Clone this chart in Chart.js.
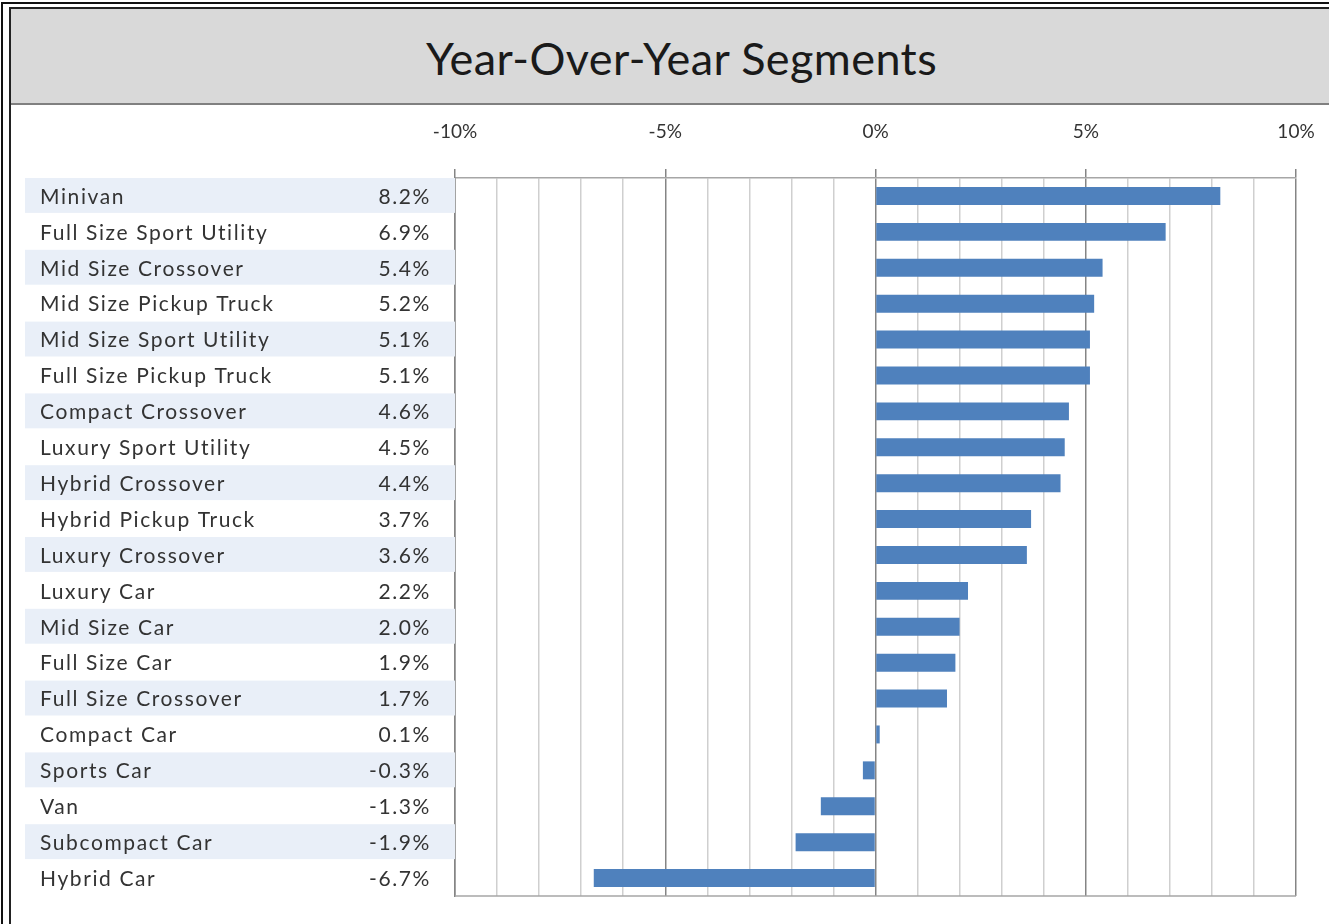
<!DOCTYPE html>
<html>
<head>
<meta charset="utf-8">
<title>Year-Over-Year Segments</title>
<script src="https://cdn.jsdelivr.net/npm/chart.js@4"></script>
<style>
  html, body { margin: 0; padding: 0; background: #fff; overflow: hidden; }
  body { width: 1329px; height: 924px; position: relative; font-family: Lato, 'Open Sans', sans-serif; }
  .frame-outer { position: absolute; left: 1px; top: 2px; width: 1360px; height: 960px; border: 2px solid #111; }
  .frame-inner { position: absolute; left: 9px; top: 7px; width: 1340px; height: 940px; border: 2px solid #222; }
  .title-bar {
    position: absolute; left: 0; top: 0; width: 1318px; height: 94px;
    background: #d9d9d9; border-bottom: 2px solid #808080;
  }
  .title-bar h1 {
    margin: 0; position: absolute; left: 0; width: 1341px; top: 22px; text-align: center;
    font: 400 45px Lato, 'Open Sans', sans-serif; color: #1a1a1a; letter-spacing: 0.4px;
  }
  #chartWrap { position: absolute; left: 0; top: 0; width: 1329px; height: 924px; }
</style>
</head>
<body>
<div class="frame-outer"></div>
<div class="frame-inner">
  <div class="title-bar"><h1>Year-Over-Year Segments</h1></div>
</div>
<div id="chartWrap"><canvas id="chartYoY" width="1329" height="924"></canvas></div>

<script>
// ── DATA ──────────────────────────────────────────────────────
const segments = [
  'Minivan', 'Full Size Sport Utility', 'Mid Size Crossover', 'Mid Size Pickup Truck',
  'Mid Size Sport Utility', 'Full Size Pickup Truck', 'Compact Crossover', 'Luxury Sport Utility',
  'Hybrid Crossover', 'Hybrid Pickup Truck', 'Luxury Crossover', 'Luxury Car',
  'Mid Size Car', 'Full Size Car', 'Full Size Crossover', 'Compact Car',
  'Sports Car', 'Van', 'Subcompact Car', 'Hybrid Car'
];
const yoyChange = [8.2, 6.9, 5.4, 5.2, 5.1, 5.1, 4.6, 4.5, 4.4, 3.7, 3.6, 2.2, 2.0, 1.9, 1.7, 0.1, -0.3, -1.3, -1.9, -6.7];
const axisMin = -10, axisMax = 10, axisStep = 1, labelEvery = 5;

const COLORS = {
  bar: '#4f81bd', band: '#e9eff8', text: '#333333',
  gridMinor: '#cfcfcf', gridMajor: '#858585', frame: '#a6a6a6',
};

const isMajor = v => Math.abs(v % labelEvery) < 1e-9;

// ── LEFT TABLE (names + values, banded rows) ──────────────────
const tablePlugin = {
  id: 'segTable',
  beforeDatasetsDraw(chart) {
    const { ctx, chartArea, scales: { y } } = chart;
    const rowH = (chartArea.bottom - chartArea.top) / segments.length;
    ctx.save();
    segments.forEach((name, i) => {
      const cy = y.getPixelForValue(i);
      if (i % 2 === 0) {
        ctx.fillStyle = COLORS.band;
        ctx.fillRect(25, cy - rowH / 2, chartArea.left - 25, rowH - 1);
      }
    });
    ctx.fillStyle = COLORS.text;
    ctx.font = '21px Lato, "Open Sans", sans-serif';
    ctx.letterSpacing = '1.6px';
    ctx.textBaseline = 'middle';
    segments.forEach((name, i) => {
      const cy = y.getPixelForValue(i) + 1;
      ctx.textAlign = 'left';
      ctx.fillText(name, 40, cy);
      ctx.textAlign = 'right';
      ctx.fillText(yoyChange[i].toFixed(1) + '%', chartArea.left - 24, cy);
    });
    ctx.letterSpacing = '0px';
    // bottom edge of the plot box
    ctx.strokeStyle = COLORS.frame;
    ctx.lineWidth = 1.5;
    ctx.beginPath();
    ctx.moveTo(chartArea.left, chartArea.bottom);
    ctx.lineTo(chartArea.right, chartArea.bottom);
    ctx.stroke();
    ctx.restore();
  }
};

// ── CHART ─────────────────────────────────────────────────────
new Chart(document.getElementById('chartYoY'), {
  type: 'bar',
  data: {
    labels: segments,
    datasets: [{
      data: yoyChange,
      backgroundColor: COLORS.bar,
      borderWidth: 0,
      barPercentage: 0.5,
      categoryPercentage: 1.0,
    }]
  },
  options: {
    indexAxis: 'y',
    responsive: false,
    animation: false,
    maintainAspectRatio: false,
    layout: { padding: { left: 0, top: 110, right: 33, bottom: 28 } },
    plugins: { legend: { display: false }, tooltip: { enabled: false }, title: { display: false } },
    scales: {
      x: {
        position: 'top',
        min: axisMin, max: axisMax,
        afterFit: s => { s.height = 68; s.paddingLeft = 0; s.paddingRight = 0; },
        afterBuildTicks: s => {
          const t = [];
          for (let v = axisMin; v <= axisMax; v += axisStep) t.push({ value: v });
          s.ticks = t;
        },
        ticks: {
          autoSkip: false, maxRotation: 0, padding: 26,
          color: COLORS.text, font: { family: "Lato, 'Open Sans', sans-serif", size: 19 },
          callback: v => isMajor(v) ? v + '%' : '',
        },
        grid: {
          color: c => isMajor(c.tick.value) ? COLORS.gridMajor : COLORS.gridMinor,
          tickColor: c => isMajor(c.tick.value) ? COLORS.gridMajor : 'rgba(0,0,0,0)',
          lineWidth: 1.5,
          tickLength: 9,
        },
        border: { color: COLORS.frame, width: 1.5 },
      },
      y: {
        afterFit: s => { s.width = 455; s.paddingTop = 0; s.paddingBottom = 0; },
        ticks: { display: false },
        grid: { display: false },
        border: { color: COLORS.gridMajor, width: 1.5 },
      }
    }
  },
  plugins: [tablePlugin]
});
</script>
</body>
</html>
